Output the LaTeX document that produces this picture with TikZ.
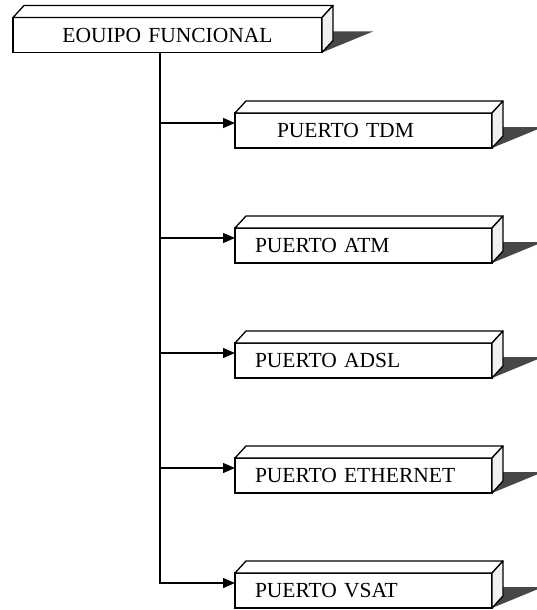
\documentclass[tikz,border=0pt]{standalone}
\usepackage{fontspec}
\setmainfont{Liberation Serif}
\usepackage{tikz}
\usetikzlibrary{arrows.meta, positioning, calc}

\begin{document}
\begin{tikzpicture}[
    node distance=80pt,
    font=\fontsize{21.5}{25}\selectfont,
    front/.style={rectangle, draw=black, fill=white, line width=1.3pt, minimum height=35pt, outer sep=0pt},
    mainbox/.style={front, text width=269pt, inner xsep=20pt, align=center},
    portbox/.style={front, text width=217pt, inner xsep=20pt, align=left},
    face/.style={draw=black, fill=white, line width=1.3pt, line join=round},
    sideface/.style={face, fill=gray!12},
    shade/.style={fill=black!72},
    arrow/.style={-{Triangle[length=12pt,width=10pt]}, line width=1.3pt, draw=black}
]
\useasboundingbox (0,0) rectangle (537pt,-610pt);
% ---------------- boxes ----------------
\node[mainbox] (equipo) at (167.5pt,-35pt) {EOUIPO FUNCIONAL};
\node[portbox] (tdm) at (363.5pt,-130.5pt) {\hspace*{22pt}PUERTO TDM};
\node[portbox, below=of tdm] (atm) {PUERTO ATM};
\node[portbox, below=of atm] (adsl) {PUERTO ADSL};
\node[portbox, below=of adsl] (eth) {PUERTO ETHERNET};
\node[portbox, below=of eth] (vsat) {PUERTO VSAT};
% 3D look: shadow, top and side faces
\foreach \n in {equipo,tdm,atm,adsl,eth,vsat} {
  \fill[shade] ($(\n.south east)+(11pt,21pt)$) -- ++(40pt,0) -- (\n.south east) -- ($(\n.south east)+(11pt,12pt)$) -- cycle;
  \draw[face] (\n.north west) -- ++(11pt,12pt) -- ($(\n.north east)+(11pt,12pt)$) -- (\n.north east) -- cycle;
  \draw[sideface] (\n.north east) -- ++(11pt,12pt) -- ($(\n.south east)+(11pt,12pt)$) -- (\n.south east) -- cycle;
}
% ---------------- connectors ----------------
\coordinate (trunk) at ($(equipo.south)+(-7.5pt,0)$);
\foreach \n in {tdm,atm,adsl,eth} {
  \coordinate (\n-in) at ($(\n.north west)+(0,-10pt)$);
  \draw[arrow] (trunk |- \n-in) -- (\n-in);
}
\coordinate (vsat-in) at ($(vsat.north west)+(0,-10pt)$);
\draw[arrow] (trunk) |- (vsat-in);
\end{tikzpicture}
\end{document}
